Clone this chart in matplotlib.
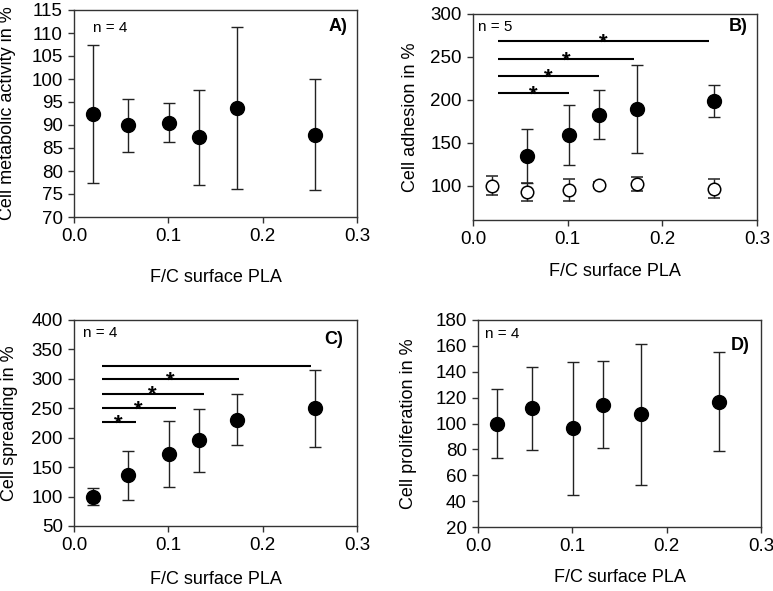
import matplotlib
matplotlib.use("Agg")
import matplotlib.pyplot as plt

plt.rcParams['font.family'] = ['Liberation Sans', 'DejaVu Sans']

# ---------------- data ----------------
fc = [0.02, 0.057, 0.101, 0.133, 0.173, 0.255]

# A) metabolic activity
act_mean = [92.4, 89.9, 90.5, 87.3, 93.7, 87.9]
act_err = [14.9, 5.8, 4.3, 10.3, 17.6, 12.1]

# B) adhesion (filled: treated, open: control)
adh_fc = [0.057, 0.101, 0.133, 0.173, 0.255]
adh_mean = [134.6, 159.0, 182.9, 189.5, 199.0]
adh_err = [32.0, 34.5, 28.0, 51.0, 18.8]
adh_ctrl_mean = [100.0, 92.2, 94.9, 100.8, 101.6, 96.5]
adh_ctrl_err = [11.0, 10.5, 13.0, 3.0, 8.0, 10.7]
adh_sig_start = 0.0265
adh_sig_end = [0.1016, 0.1327, 0.1705, 0.2488]
adh_sig_y = [208, 228, 248, 268]

# C) spreading
spr_mean = [100.0, 136.5, 172.0, 195.5, 230.5, 250.0]
spr_err = [14.7, 41.6, 55.8, 53.2, 43.3, 65.0]
spr_sig_start = 0.0293
spr_sig_end = [0.0656, 0.108, 0.1376, 0.1744, 0.2516]
spr_sig_y = [226, 250, 275, 299, 322]
spr_sig_star = [True, True, True, True, False]

# D) proliferation
pro_mean = [100.0, 111.6, 96.3, 114.4, 107.0, 117.0]
pro_err = [27.0, 32.4, 51.4, 33.6, 54.5, 38.0]

xticks = [0.0, 0.1, 0.2, 0.3]
xticklabels = ["0.0", "0.1", "0.2", "0.3"]

# ---------------- figure ----------------
fig = plt.figure(figsize=(7.73, 5.91), dpi=100)

W, H = 773, 591
def add_ax(l, r, t, b):
    return fig.add_axes([l / W, 1 - b / H, (r - l) / W, (b - t) / H])

axA = add_ax(74, 357, 10, 217)
axB = add_ax(473, 757, 14, 220)
axC = add_ax(74, 357, 320, 526)
axD = add_ax(478, 761, 320, 527)

spine_col = '#333333'
FS = 13

def style(ax, ylim, yticks, ylabel, nlabel, npos, letter, lpos, ylab_x, xlab_y):
    ax.set_xlim(0, 0.3)
    ax.set_ylim(*ylim)
    ax.set_xticks(xticks)
    ax.set_xticklabels(xticklabels)
    ax.set_yticks(yticks)
    ax.tick_params(direction='out', length=4, width=1, labelsize=13.5,
                   color=spine_col, pad=4)
    for s in ax.spines.values():
        s.set_color(spine_col)
        s.set_linewidth(1.0)
    ax.set_ylabel(ylabel, fontsize=FS)
    ax.set_xlabel("F/C surface PLA", fontsize=FS)
    ax.yaxis.set_label_coords(ylab_x, 0.5)
    ax.xaxis.set_label_coords(0.5, xlab_y)
    ax.text(npos[0], npos[1], nlabel, transform=ax.transAxes, fontsize=11,
            ha='left', va='center')
    ax.text(lpos[0], lpos[1], letter, transform=ax.transAxes, fontsize=13,
            fontweight='bold', ha='right', va='center')

def star(ax, x, y):
    ax.annotate("*", xy=(x, y), xytext=(0, -5.5), textcoords='offset points',
                ha='center', va='baseline', fontsize=16, fontweight='bold')

eb_kw = dict(fmt='o', color='black', ecolor='#222222', elinewidth=1.0,
             capsize=4.5, capthick=1.0, markersize=10, zorder=3)

# A
axA.errorbar(fc, act_mean, yerr=act_err, **eb_kw)
style(axA, (70, 115), list(range(70, 116, 5)), "Cell metabolic activity in %",
      "n = 4", (0.067, 0.913), "A)", (0.965, 0.918), -0.205, -0.251)

# B
axB.errorbar(fc, adh_ctrl_mean, yerr=adh_ctrl_err, fmt='o', color='black',
             ecolor='#222222', elinewidth=1.0, capsize=4.5, capthick=1.0,
             markersize=9, markerfacecolor='white', markeredgewidth=1.1, zorder=3)
axB.errorbar(adh_fc, adh_mean, yerr=adh_err, **eb_kw)
for xe, y in zip(adh_sig_end, adh_sig_y):
    axB.plot([adh_sig_start, xe], [y, y], color='black', lw=1.5, solid_capstyle='butt')
    star(axB, (adh_sig_start + xe) / 2, y)
style(axB, (60, 300), list(range(100, 301, 50)), "Cell adhesion in %",
      "n = 5", (0.018, 0.937), "B)", (0.968, 0.94), -0.19, -0.209)

# C
axC.errorbar(fc, spr_mean, yerr=spr_err, **eb_kw)
for xe, y, st in zip(spr_sig_end, spr_sig_y, spr_sig_star):
    axC.plot([spr_sig_start, xe], [y, y], color='black', lw=1.5, solid_capstyle='butt')
    if st:
        star(axC, (spr_sig_start + xe) / 2, y)
style(axC, (50, 400), list(range(50, 401, 50)), "Cell spreading in %",
      "n = 4", (0.031, 0.937), "C)", (0.951, 0.903), -0.198, -0.218)

# D
axD.errorbar(fc, pro_mean, yerr=pro_err, **eb_kw)
style(axD, (20, 180), list(range(20, 181, 20)), "Cell proliferation in %",
      "n = 4", (0.025, 0.932), "D)", (0.961, 0.879), -0.215, -0.205)

fig.savefig("out.png", dpi=100)
